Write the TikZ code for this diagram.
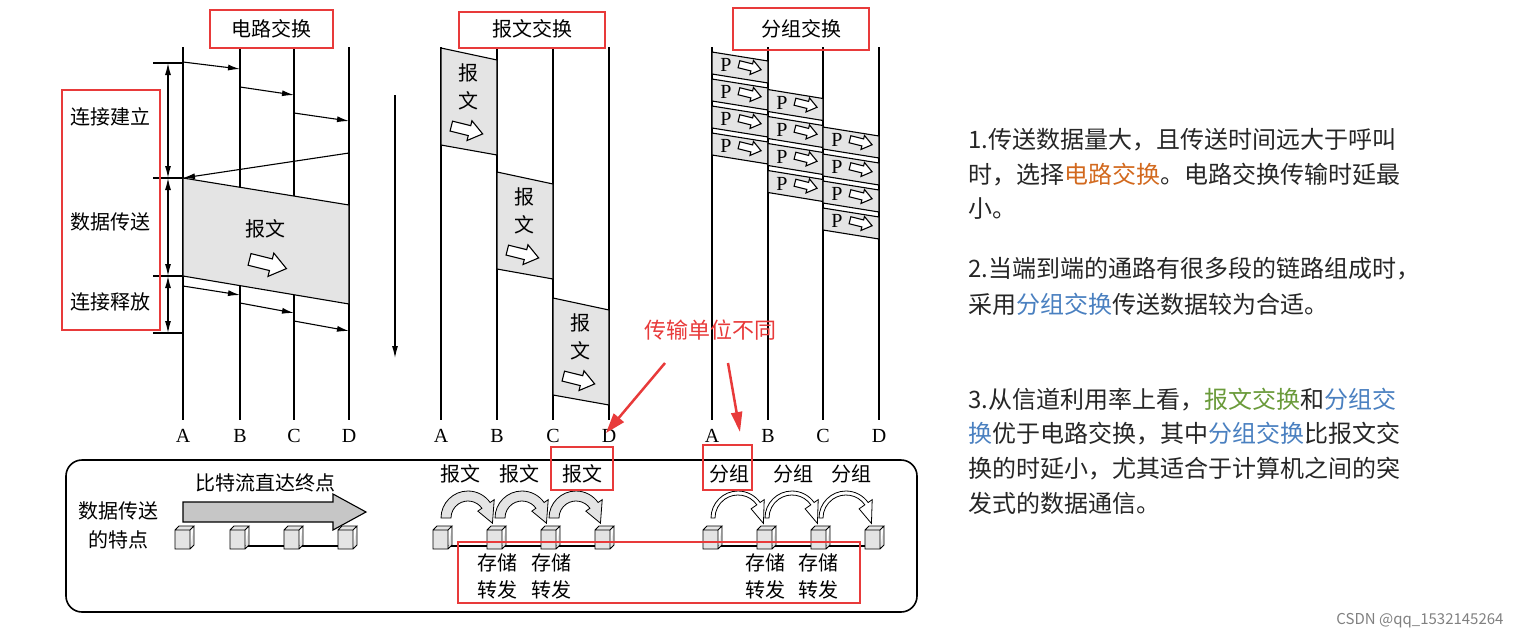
\documentclass[tikz,border=0pt]{standalone}
\usepackage{fontspec}
\setmainfont{Noto Sans CJK SC}
\newfontfamily\lat{Liberation Serif}
\usetikzlibrary{arrows.meta,calc}
\definecolor{rd}{HTML}{E83A3A}
\definecolor{org}{HTML}{D2691E}
\definecolor{blu}{HTML}{4A80C0}
\definecolor{grn}{HTML}{6A9A3A}
\definecolor{gry}{HTML}{E4E4E4}
\newcommand{\warr}[3]{\begin{scope}[shift={(#1,#2)},scale=#3,rotate=-14]
\draw[fill=white,line width=1.1pt] (-19,-6)--(3,-6)--(3,-12)--(19,0)--(3,12)--(3,6)--(-19,6)--cycle;\end{scope}}
\newcommand{\cube}[2]{\draw[fill=gry,line width=0.9pt] (#1-8,#2-8)--(#1+7,#2-8)--(#1+7,#2+11)--(#1-8,#2+11)--cycle
 (#1-8,#2-8)--(#1-4,#2-12)--(#1+11,#2-12)--(#1+7,#2-8) (#1+11,#2-12)--(#1+11,#2+7)--(#1+7,#2+11);}
\newcommand{\bigarc}[2]{\draw[fill=gry,line width=0.8pt] (#1,#2) ++(180:27) arc (180:325:27) -- ++(325:5) -- ($(#1,#2)+(12:25)$) -- ($(#1,#2)+(325:12)$) -- ($(#1,#2)+(325:17)$) arc (325:180:17) -- cycle;}
\newcommand{\thinarc}[2]{\draw[fill=white,line width=0.8pt] (#1,#2) ++(180:27) arc (180:325:27) -- ++(325:5) -- ($(#1,#2)+(12:26)$) -- ($(#1,#2)+(325:16)$) -- ($(#1,#2)+(325:23)$) arc (325:180:23) -- cycle;}
\begin{document}
\begin{tikzpicture}[x=1pt,y=-1pt,
 rbox/.style={draw=rd,line width=2.2pt},
 ln/.style={line width=1.1pt},
 ar/.style={ln,-{Latex[length=12pt,width=6pt]}},
 da/.style={ln,{Latex[length=12pt,width=6pt]}-{Latex[length=12pt,width=6pt]}},
 t/.style={font=\fontsize{20}{24}\selectfont,inner sep=0pt},
 lt/.style={font=\fontsize{20}{24}\lat,inner sep=0pt},
 rt/.style={font=\fontsize{24}{28}\selectfont,anchor=west,inner sep=0pt,text=black!85}]
\useasboundingbox (0,0) rectangle (1524,641);
% ---------- circuit ----------
\foreach \x/\l in {183/A,240/B,294/C,349/D}{\draw[ln] (\x,47)--(\x,420); \node[lt] at (\x,436) {\l};}
\node[t] (t1) at (271,29) {电路交换}; \draw[rbox] (210,10) rectangle (333,48);
\foreach \y in {63,178,276,333}{\draw[ln] (153,\y)--(183,\y);}
\draw[da] (168,63)--(168,178);
\draw[da] (168,178)--(168,276);
\draw[da] (168,276)--(168,333);
\draw[rbox] (62,90) rectangle (160,330);
\node[t] at (110,117) {连接建立}; \node[t] at (110,222) {数据传送}; \node[t] at (110,302) {连接释放};
\draw[ar] (183,62)--(240,69); \draw[ar] (240,87)--(294,95); \draw[ar] (294,113)--(349,121);
\draw[ar] (349,153)--(183,178);
\draw[ln,fill=gry] (183,178)--(349,205)--(349,304)--(183,276)--cycle;
\node[t] at (265,229) {报文}; \warr{268}{264}{1}
\draw[ar] (183,286)--(240,295); \draw[ar] (240,303)--(294,313); \draw[ar] (294,321)--(349,331);
\draw[ln,-{Latex[length=12pt,width=6pt]}] (395,95)--(395,358);
% ---------- message ----------
\foreach \x/\l in {441/A,497/B,553/C,609/D}{\draw[ln] (\x,47)--(\x,420); \node[lt] at (\x,436) {\l};}
\node[t] at (532,29) {报文交换}; \draw[rbox] (459,12) rectangle (605,48);
\foreach \a/\b/\y in {441/497/48,497/553/172,553/609/298}{
 \draw[ln,fill=gry] (\a,\y)--(\b,\y+12)--(\b,\y+107)--(\a,\y+97)--cycle;
 \node[t] at (\a+27,\y+25) {报}; \node[t] at (\a+27,\y+53) {文}; \warr{\a+26}{\y+82}{0.85}}
% ---------- packet ----------
\foreach \x/\l in {712/A,768/B,823/C,879/D}{\draw[ln] (\x,47)--(\x,420); \node[lt] at (\x,436) {\l};}
\node[t] at (801,29) {分组交换}; \draw[rbox] (733,8) rectangle (869,50);
\foreach \a/\b/\h in {712/768/0,768/823/1,823/879/2}{
 \foreach \i in {0,...,3}{
  \pgfmathsetmacro\yy{52+37.5*\h+27*\i}
  \draw[ln,fill=gry] (\a,\yy)--(\b,\yy+9)--(\b,\yy+31)--(\a,\yy+22)--cycle;
  \node[lt] at (\a+14,\yy+13) {P}; \warr{\a+38}{\yy+15}{0.6}}}
% ---------- red annotation ----------
\node[font=\fontsize{22}{26}\selectfont,text=rd,inner sep=0pt] at (710,330) {传输单位不同};
\draw[rd,line width=2.5pt,-{Triangle[length=20pt,width=13pt]}] (665,363)--(606,433);
\draw[rd,line width=2.5pt,-{Triangle[length=20pt,width=11pt]}] (728,363)--(740,432);
% ---------- bottom box ----------
\draw[line width=1.6pt,rounded corners=16pt] (66,460) rectangle (917,612);
\node[t] at (118,511) {数据传送}; \node[t] at (118,540) {的特点};
\node[t] at (265,483) {比特流直达终点};
\draw[ln,fill=gray!45] (183,502)--(333,502)--(333,494)--(366,512)--(333,530)--(333,522)--(183,522)--cycle;
\draw[ln] (238,546)--(346,546); \draw[ln] (441,546)--(603,546); \draw[ln] (711,546)--(873,546);
\foreach \x in {183,238,292,346,441,495,549,603,711,765,819,873}{\cube{\x}{538}}
\foreach \x in {460,519,582}{\node[t] at (\x,474) {报文};}
\foreach \x in {729,793,851}{\node[t] at (\x,474) {分组};}
\foreach \x in {468,522,576}{\bigarc{\x}{518}}
\foreach \x in {738,792,846}{\thinarc{\x}{518}}
\draw[rbox] (551,447) rectangle (613,490);
\draw[rbox] (703,445) rectangle (752,490);
\foreach \x in {497,551,765,818}{\node[t] at (\x,563) {存储}; \node[t] at (\x,590) {转发};}
\draw[rbox] (458,542) rectangle (860,603);
% ---------- right text ----------
\node[rt] at (968,140) {1.传送数据量大，且传送时间远大于呼叫};
\node[rt] at (968,175) {时，选择\textcolor{org}{电路交换}。电路交换传输时延最};
\node[rt] at (968,209) {小。};
\node[rt] at (968,269) {2.当端到端的通路有很多段的链路组成时，};
\node[rt] at (968,304) {采用\textcolor{blu}{分组交换}传送数据较为合适。};
\node[rt] at (968,400) {3.从信道利用率上看，\textcolor{grn}{报文交换}和\textcolor{blu}{分组交}};
\node[rt] at (968,434) {\textcolor{blu}{换}优于电路交换，其中\textcolor{blu}{分组交换}比报文交};
\node[rt] at (968,469) {换的时延小，尤其适合于计算机之间的突};
\node[rt] at (968,503) {发式的数据通信。};
\node[font=\fontsize{15}{18}\selectfont,text=gray,inner sep=0pt] at (1420,621) {CSDN @qq\_1532145264};
\end{tikzpicture}
\end{document}
